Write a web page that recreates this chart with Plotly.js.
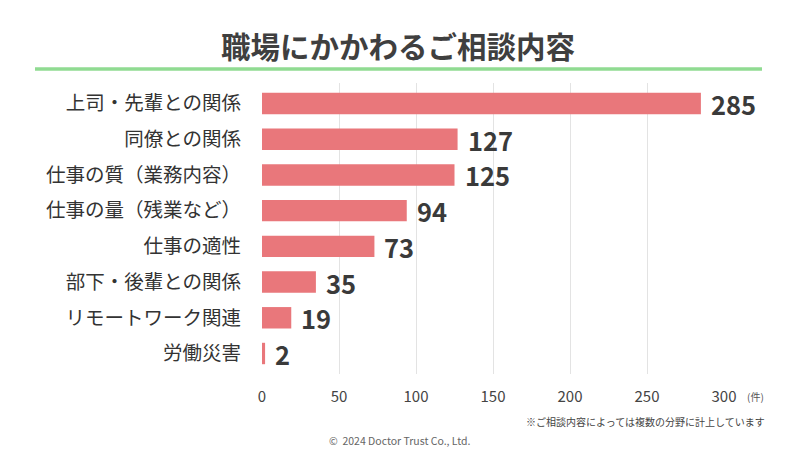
<!DOCTYPE html>
<html>
<head>
<meta charset="utf-8">
<script src="https://cdn.plot.ly/plotly-3.0.1.min.js"></script>
<style>html,body{margin:0;padding:0;background:#fff;}#chart{width:800px;height:450px;}</style>
</head>
<body>
<div id="chart"></div>
<script>
const categories = ["上司・先輩との関係","同僚との関係","仕事の質（業務内容）","仕事の量（残業など）","仕事の適性","部下・後輩との関係","リモートワーク関連","労働災害"];
const counts = [285,127,125,94,73,35,19,2];
const tickVals = [0,50,100,150,200,250,300];

const W = 800, H = 450;
const px = x => x / W;
const py = y => 1 - y / H;
const FONT = '"Noto Sans CJK JP", "Noto Sans", sans-serif';

const trace = {
  type: 'bar',
  orientation: 'h',
  x: counts,
  y: categories,
  marker: {color: '#E9777B'},
  hoverinfo: 'none'
};

const valueAnns = counts.map((v, i) => ({
  x: v, y: categories[i], xref: 'x', yref: 'y',
  text: '<b>' + v + '</b>', showarrow: false,
  xanchor: 'left', yanchor: 'middle', xshift: 8, yshift: 0,
  font: {family: FONT, size: 25.5, color: '#3a3a3a'}
}));

const layout = {
  width: W, height: H,
  margin: {l: 0, r: 0, t: 0, b: 0},
  paper_bgcolor: '#fff', plot_bgcolor: '#fff',
  showlegend: false,
  bargap: 0.4,
  xaxis: {
    domain: [px(262), px(724)],
    range: [0, 300],
    tickvals: tickVals,
    showgrid: true, gridcolor: '#e3e3e3', gridwidth: 1,
    zeroline: false, showline: false,
    ticks: '', ticklabelstandoff: 12,
    tickfont: {family: FONT, size: 15, color: '#444'},
    fixedrange: true
  },
  yaxis: {
    domain: [py(374), py(83)],
    type: 'category',
    autorange: 'reversed',
    showgrid: false, zeroline: false, showline: false,
    ticks: '', ticklabelstandoff: 20,
    tickfont: {family: FONT, size: 19.5, color: '#333'},
    fixedrange: true
  },
  shapes: [{
    type: 'line', xref: 'paper', yref: 'paper',
    x0: px(35), x1: px(762), y0: py(69), y1: py(69),
    line: {color: '#90DB92', width: 3.5}
  }],
  annotations: valueAnns.concat([
    {xref: 'paper', yref: 'paper', x: px(398), y: py(45), xanchor: 'center', yanchor: 'middle',
     text: '<b>職場にかかわるご相談内容</b>', showarrow: false,
     font: {family: FONT, size: 29.5, color: '#3f3f3f'}},
    {xref: 'paper', yref: 'paper', x: px(745), y: py(396), xanchor: 'left', yanchor: 'middle',
     text: '(件)', showarrow: false,
     font: {family: FONT, size: 10, color: '#555'}},
    {xref: 'paper', yref: 'paper', x: px(767), y: py(421), xanchor: 'right', yanchor: 'middle',
     text: '※ご相談内容によっては複数の分野に計上しています', showarrow: false,
     font: {family: FONT, size: 10, color: '#444'}},
    {xref: 'paper', yref: 'paper', x: px(400), y: py(440), xanchor: 'center', yanchor: 'middle',
     text: '©  2024 Doctor Trust Co., Ltd.', showarrow: false,
     font: {family: FONT, size: 10.5, color: '#666'}}
  ])
};

Plotly.newPlot('chart', [trace], layout, {displayModeBar: false, staticPlot: true});
</script>
</body>
</html>
